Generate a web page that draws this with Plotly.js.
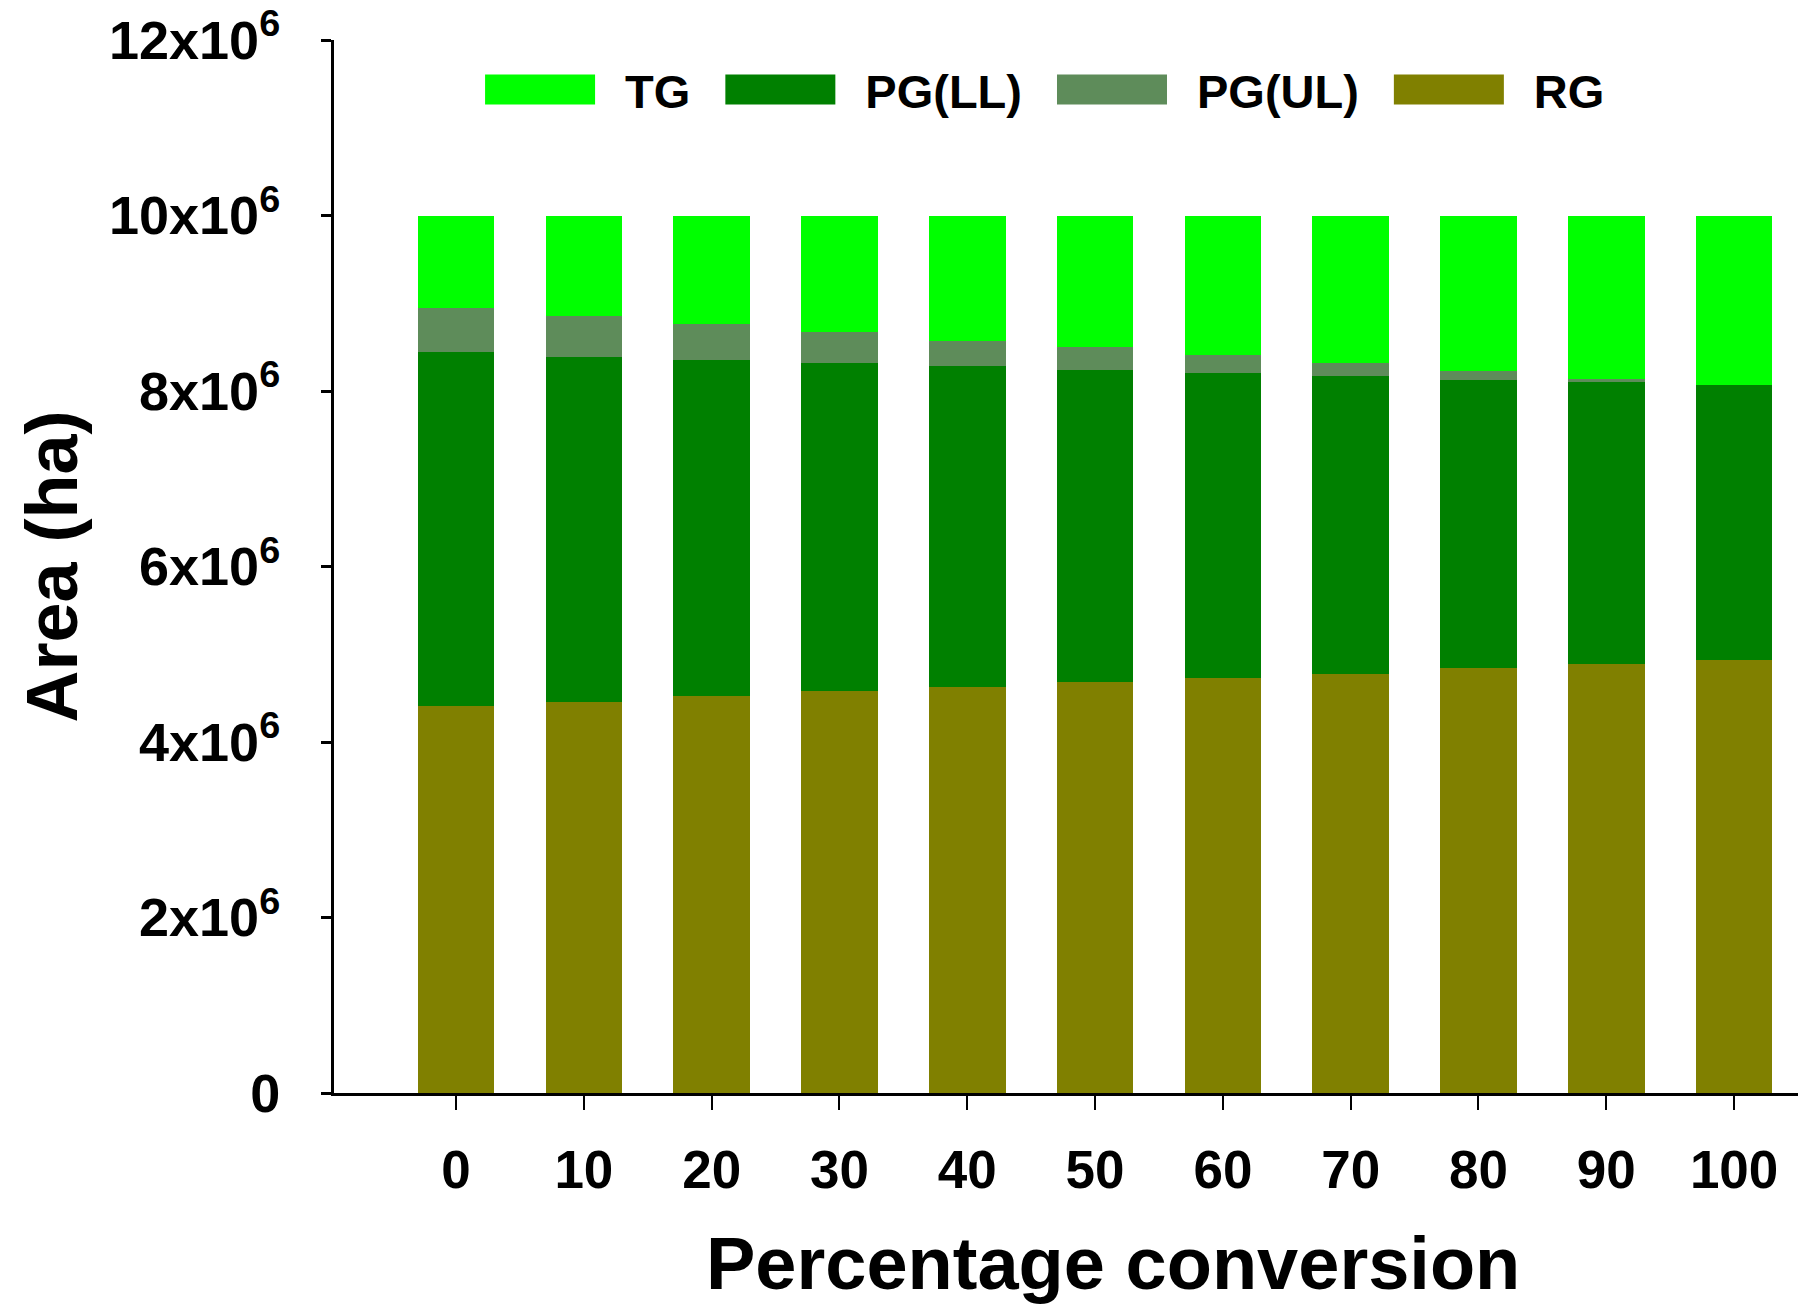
<!DOCTYPE html>
<html><head><meta charset="utf-8">
<script src="https://cdn.plot.ly/plotly-3.0.1.min.js"></script>
<style>html,body{margin:0;padding:0;background:#fff}#chart{width:1798px;height:1305px}</style>
</head><body><div id="chart"></div>
<script>
// Categories (percentage conversion)
const categories = ["0", "10", "20", "30", "40", "50", "60", "70", "80", "90", "100"];
// Series values (ha)
const RG    = [4410000, 4460000, 4520000, 4580000, 4630000, 4680000, 4730000, 4780000, 4840000, 4890000, 4940000];
const PG_LL = [4030000, 3930000, 3830000, 3735000, 3650000, 3560000, 3480000, 3390000, 3285000, 3215000, 3130000];
const PG_UL = [510000, 465000, 410000, 355000, 290000, 260000, 200000, 145000, 105000, 35000, 0];
const TG    = [1050000, 1145000, 1240000, 1330000, 1430000, 1500000, 1590000, 1685000, 1770000, 1860000, 1930000];
// Y tick labels
const yTickVals = [0, 2000000, 4000000, 6000000, 8000000, 10000000, 12000000];
const yTickText = ["0", "2x10<sup>6</sup>", "4x10<sup>6</sup>", "6x10<sup>6</sup>", "8x10<sup>6</sup>", "10x10<sup>6</sup>", "12x10<sup>6</sup>"];

const FONT = "Liberation Sans, Arial, Helvetica, sans-serif";

function barTrace(name, y, color, rank) {
  return {type: 'bar', name: name, x: categories, y: y, legendrank: rank,
    marker: {color: color, line: {width: 0}}, hoverinfo: 'x+y+name'};
}
const data = [
  barTrace('RG', RG, '#808000', 4),
  barTrace('PG(LL)', PG_LL, '#008000', 2),
  barTrace('PG(UL)', PG_UL, '#5e8c5a', 3),
  barTrace('TG', TG, '#00ff00', 1)
];

const layout = {
  width: 1798, height: 1305,
  margin: {l: 334, r: 0, t: 40, b: 212, pad: 0},
  paper_bgcolor: '#ffffff', plot_bgcolor: '#ffffff',
  barmode: 'stack', bargap: 0.4,
  font: {family: FONT, color: '#000', weight: 700},
  showlegend: true,
  legend: {orientation: 'h', traceorder: 'normal', x: 0.0827, xanchor: 'left', y: 0.9525, yanchor: 'middle',
    font: {family: FONT, size: 47, color: '#000', weight: 700},
    itemwidth: 160, bgcolor: 'rgba(0,0,0,0)', borderwidth: 0},
  xaxis: {type: 'category', range: [-0.955, 10.5], showgrid: false, zeroline: false,
    showline: true, linecolor: '#000', linewidth: 3,
    ticks: 'outside', ticklen: 14, tickwidth: 2, tickcolor: '#000',
    ticklabelstandoff: 14,
    tickfont: {family: FONT, size: 53, color: '#000', weight: 700}},
  yaxis: {range: [0, 12000000], showgrid: false, zeroline: false,
    showline: true, linecolor: '#000', linewidth: 3,
    ticks: 'outside', ticklen: 10, tickwidth: 3, tickcolor: '#000',
    tickmode: 'array', tickvals: yTickVals, ticktext: yTickText,
    ticklabelstandoff: 30,
    tickfont: {family: FONT, size: 54, color: '#000', weight: 700},
    title: {text: 'Area (ha)', standoff: 8, font: {family: FONT, size: 72, color: '#000', weight: 700}}},
  annotations: [{text: 'Percentage conversion', xref: 'paper', yref: 'paper', x: 0.532, y: 0,
    xanchor: 'center', yanchor: 'top', yshift: -127, showarrow: false,
    font: {family: FONT, size: 74, color: '#000', weight: 700}}]
};

Plotly.newPlot('chart', data, layout, {staticPlot: true, displayModeBar: false}).then(function (gd) {
  gd.querySelectorAll('.legend .legendpoints path').forEach(function (p) {
    p.setAttribute('d', 'M-55,15H55V-15H-55Z');
  });
});
</script>
</body></html>
